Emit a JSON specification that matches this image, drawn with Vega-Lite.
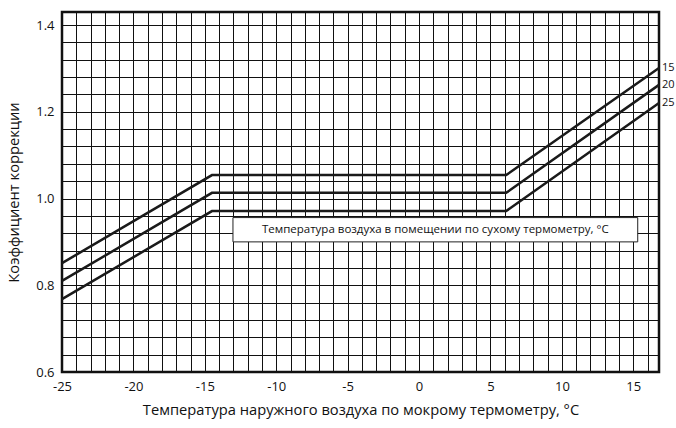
{
  "$schema": "https://vega.github.io/schema/vega-lite/v6.json",
  "width": 597,
  "height": 360,
  "autosize": {"type": "none"},
  "padding": {"left": 62, "top": 12, "right": 17, "bottom": 56},
  "background": "white",
  "config": {
    "view": {"stroke": "#111", "strokeWidth": 2.5},
    "font": "Open Sans",
    "axis": {
      "labelOverlap": false,
      "labelFlush": false,
      "labelFontSize": 13,
      "labelColor": "#111",
      "labelPadding": 8,
      "ticks": false,
      "domain": false,
      "grid": true,
      "gridColor": "#111",
      "gridWidth": 1,
      "gridOpacity": 1,
      "titleFontSize": 14.7,
      "titleFontWeight": "normal",
      "titleColor": "#111",
      "titleBaseline": "middle"
    }
  },
  "datasets": {
    "curves": [
      {"t": -25, "k": 0.851, "s": "15"},
      {"t": -14.5, "k": 1.054, "s": "15"},
      {"t": 6.1, "k": 1.054, "s": "15"},
      {"t": 16.8, "k": 1.301, "s": "15"},
      {"t": -25, "k": 0.810, "s": "20"},
      {"t": -14.5, "k": 1.013, "s": "20"},
      {"t": 6.1, "k": 1.013, "s": "20"},
      {"t": 16.8, "k": 1.262, "s": "20"},
      {"t": -25, "k": 0.768, "s": "25"},
      {"t": -14.5, "k": 0.971, "s": "25"},
      {"t": 6.1, "k": 0.971, "s": "25"},
      {"t": 16.8, "k": 1.220, "s": "25"}
    ],
    "note": [{"label": "Температура воздуха в помещении по  сухому термометру, °C"}]
  },
  "layer": [
    {
      "data": {"name": "curves"},
      "mark": {"type": "line", "color": "#1a1a1a", "strokeWidth": 2.5, "clip": false},
      "encoding": {
        "x": {
          "field": "t", "type": "quantitative",
          "scale": {"domain": [-25, 16.8], "nice": false, "zero": false},
          "axis": {
            "values": [-25,-24,-23,-22,-21,-20,-19,-18,-17,-16,-15,-14,-13,-12,-11,-10,-9,-8,-7,-6,-5,-4,-3,-2,-1,0,1,2,3,4,5,6,7,8,9,10,11,12,13,14,15,16],
            "labelExpr": "datum.value % 5 === 0 ? '' + datum.value : ''",
            "title": "Температура наружного воздуха по мокрому термометру, °C",
            "titleY": 38
          }
        },
        "y": {
          "field": "k", "type": "quantitative",
          "scale": {"domain": [0.6, 1.43], "nice": false, "zero": false},
          "axis": {
            "values": [0.6,0.64,0.68,0.72,0.76,0.8,0.84,0.88,0.92,0.96,1.0,1.04,1.08,1.12,1.16,1.2,1.24,1.28,1.32,1.36,1.4],
            "labelExpr": "abs(datum.value*5 - round(datum.value*5)) < 0.001 ? format(datum.value, '.1f') : ''",
            "title": "Коэффициент коррекции",
            "titleX": -48,
            "titleY": 180,
            "titleAngle": -90
          }
        },
        "detail": {"field": "s"}
      }
    },
    {
      "data": {"name": "curves"},
      "transform": [{"filter": "datum.t > 16"}],
      "mark": {"type": "text", "align": "left", "baseline": "middle", "dx": 3, "fontSize": 11, "color": "#111", "clip": false},
      "encoding": {
        "x": {
          "field": "t", "type": "quantitative",
          "axis": {
            "values": [-25,-24,-23,-22,-21,-20,-19,-18,-17,-16,-15,-14,-13,-12,-11,-10,-9,-8,-7,-6,-5,-4,-3,-2,-1,0,1,2,3,4,5,6,7,8,9,10,11,12,13,14,15,16],
            "labelExpr": "datum.value % 5 === 0 ? '' + datum.value : ''",
            "title": "Температура наружного воздуха по мокрому термометру, °C",
            "titleY": 38
          }
        },
        "y": {
          "field": "k", "type": "quantitative",
          "axis": {
            "values": [0.6,0.64,0.68,0.72,0.76,0.8,0.84,0.88,0.92,0.96,1.0,1.04,1.08,1.12,1.16,1.2,1.24,1.28,1.32,1.36,1.4],
            "labelExpr": "abs(datum.value*5 - round(datum.value*5)) < 0.001 ? format(datum.value, '.1f') : ''",
            "title": "Коэффициент коррекции",
            "titleX": -48,
            "titleY": 180,
            "titleAngle": -90
          }
        },
        "text": {"field": "s"}
      }
    },
    {
      "data": {"name": "note"},
      "mark": {"type": "rect", "fill": "white", "stroke": "#222", "strokeWidth": 1},
      "encoding": {
        "x": {
          "datum": -13.03, "type": "quantitative",
          "axis": {
            "values": [-25,-24,-23,-22,-21,-20,-19,-18,-17,-16,-15,-14,-13,-12,-11,-10,-9,-8,-7,-6,-5,-4,-3,-2,-1,0,1,2,3,4,5,6,7,8,9,10,11,12,13,14,15,16],
            "labelExpr": "datum.value % 5 === 0 ? '' + datum.value : ''",
            "title": "Температура наружного воздуха по мокрому термометру, °C",
            "titleY": 38
          }
        },
        "x2": {"datum": 15.31},
        "y": {
          "datum": 0.956, "type": "quantitative",
          "axis": {
            "values": [0.6,0.64,0.68,0.72,0.76,0.8,0.84,0.88,0.92,0.96,1.0,1.04,1.08,1.12,1.16,1.2,1.24,1.28,1.32,1.36,1.4],
            "labelExpr": "abs(datum.value*5 - round(datum.value*5)) < 0.001 ? format(datum.value, '.1f') : ''",
            "title": "Коэффициент коррекции",
            "titleX": -48,
            "titleY": 180,
            "titleAngle": -90
          }
        },
        "y2": {"datum": 0.900}
      }
    },
    {
      "data": {"name": "note"},
      "mark": {"type": "text", "align": "center", "baseline": "middle", "fontSize": 11.5, "color": "#111"},
      "encoding": {
        "x": {
          "datum": 1.14, "type": "quantitative",
          "axis": {
            "values": [-25,-24,-23,-22,-21,-20,-19,-18,-17,-16,-15,-14,-13,-12,-11,-10,-9,-8,-7,-6,-5,-4,-3,-2,-1,0,1,2,3,4,5,6,7,8,9,10,11,12,13,14,15,16],
            "labelExpr": "datum.value % 5 === 0 ? '' + datum.value : ''",
            "title": "Температура наружного воздуха по мокрому термометру, °C",
            "titleY": 38
          }
        },
        "y": {
          "datum": 0.928, "type": "quantitative",
          "axis": {
            "values": [0.6,0.64,0.68,0.72,0.76,0.8,0.84,0.88,0.92,0.96,1.0,1.04,1.08,1.12,1.16,1.2,1.24,1.28,1.32,1.36,1.4],
            "labelExpr": "abs(datum.value*5 - round(datum.value*5)) < 0.001 ? format(datum.value, '.1f') : ''",
            "title": "Коэффициент коррекции",
            "titleX": -48,
            "titleY": 180,
            "titleAngle": -90
          }
        },
        "text": {"field": "label"}
      }
    }
  ]
}
